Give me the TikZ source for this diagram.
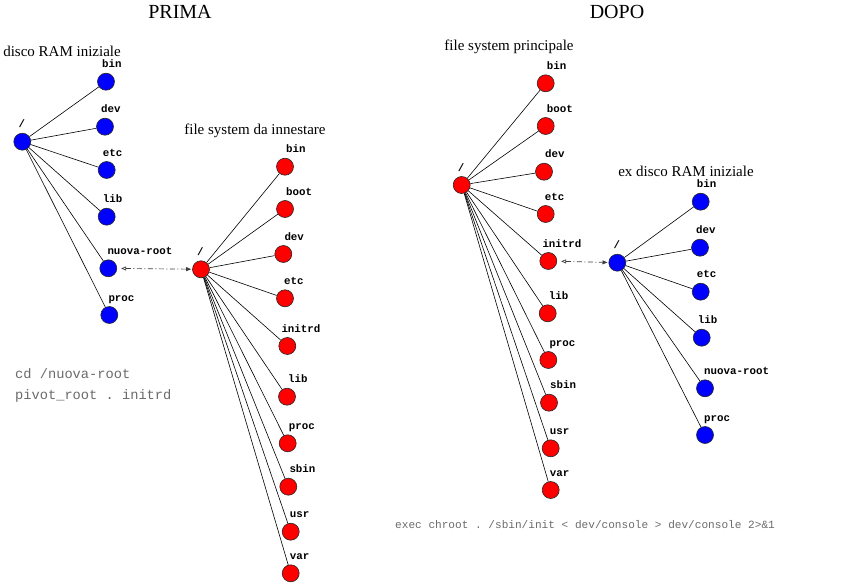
\documentclass[tikz,border=0pt]{standalone}
\usepackage{fontspec}
\setmainfont{Liberation Serif}
\setmonofont{Liberation Mono}
\usetikzlibrary{positioning, arrows.meta}
\definecolor{ramblue}{HTML}{0000FF}
\definecolor{fsred}{HTML}{FF0000}
\definecolor{cmdgray}{HTML}{6A6A6A}

\begin{document}
\begin{tikzpicture}[
    x=1pt, y=-1pt,
    >=Stealth,
    % Styles
    dirnode/.style={
        circle,
        draw=black!85,
        line width=0.6pt,
        minimum size=17pt,
        inner sep=0pt
    },
    ramdir/.style={dirnode, fill=ramblue},
    fsdir/.style={dirnode, fill=fsred},
    dirlabel/.style={
        font=\ttfamily\bfseries\fontsize{10.8}{12}\selectfont,
        anchor=base west,
        inner sep=0pt,
        xshift=-4pt,
        yshift=5pt
    },
    heading/.style={
        font=\fontsize{20}{24}\selectfont,
        anchor=base,
        inner sep=0pt
    },
    treetitle/.style={
        font=\fontsize{15}{18}\selectfont,
        anchor=base,
        inner sep=0pt
    },
    cmdtext/.style={
        font=\ttfamily\fontsize{13.7}{16}\selectfont,
        text=cmdgray,
        anchor=base west,
        inner sep=0pt
    },
    branch/.style={
        draw=black,
        line width=0.6pt
    },
    mountlink/.style={
        {Triangle[open, length=5pt, width=4pt]}-{Triangle[length=5pt, width=4pt]},
        draw=black!75,
        dash pattern=on 5pt off 2.5pt on 1pt off 2.5pt,
        line width=0.7pt,
        shorten <=4pt,
        shorten >=1pt
    }
]
    \useasboundingbox (0,0) rectangle (850,583);

    % ================= HEADINGS =================
    \node[heading] (prima) at (180,18.5) {PRIMA};
    \node[heading] (dopo) at (617,18.5) {DOPO};

    % ================= PRIMA: DISCO RAM INIZIALE =================
    \node[treetitle] (ramtitle) at (62,57) {disco RAM iniziale};
    \node[ramdir, label={[dirlabel]above:/}] (ramroot) at (22.3,141.7) {};
    \node[ramdir, label={[dirlabel]above:bin}] (rambin) at (106,81.7) {};
    \node[ramdir, label={[dirlabel]above:dev}] (ramdev) at (105,126.7) {};
    \node[ramdir, label={[dirlabel]above:etc}] (ametc) at (106.7,170) {};
    \node[ramdir, label={[dirlabel]above:lib}] (ramlib) at (106.7,216.7) {};
    \node[ramdir, label={[dirlabel, xshift=3pt]above:nuova-root}] (ramnuova) at (108.3,268.3) {};
    \node[ramdir, label={[dirlabel, xshift=3pt]above:proc}] (ramproc) at (109.3,315) {};

    % ================= PRIMA: FILE SYSTEM DA INNESTARE =================
    \node[treetitle] (newtitle) at (255,134) {file system da innestare};
    \node[fsdir, label={[dirlabel]above:/}] (newroot) at (201,269.3) {};
    \node[fsdir, label={[dirlabel, xshift=5pt]above:bin}] (newbin) at (285,166.7) {};
    \node[fsdir, label={[dirlabel, xshift=5pt]above:boot}] (newboot) at (285,209) {};
    \node[fsdir, label={[dirlabel, xshift=5pt]above:dev}] (newdev) at (283.3,254) {};
    \node[fsdir, label={[dirlabel, xshift=3pt]above:etc}] (newetc) at (285,298.3) {};
    \node[fsdir, label={[dirlabel, xshift=-2pt]above:initrd}] (newinitrd) at (287.3,346) {};
    \node[fsdir, label={[dirlabel, xshift=5pt]above:lib}] (newlib) at (287,396.7) {};
    \node[fsdir, label={[dirlabel, xshift=5pt]above:proc}] (newproc) at (287.7,443.3) {};
    \node[fsdir, label={[dirlabel, xshift=5pt]above:sbin}] (newsbin) at (288.3,486.7) {};
    \node[fsdir, label={[dirlabel, xshift=3pt]above:usr}] (newusr) at (290.7,531.7) {};
    \node[fsdir, label={[dirlabel, xshift=3pt]above:var}] (newvar) at (290.7,573.3) {};

    % ================= PRIMA: COMANDI =================
    \node[cmdtext] (cmdcd) at (15,378) {cd /nuova-root};
    \node[cmdtext] (cmdpivot) at (15,399.5) {pivot\_root . initrd};

    % ================= DOPO: FILE SYSTEM PRINCIPALE =================
    \node[treetitle] (maintitle) at (509,51) {file system principale};
    \node[fsdir, label={[dirlabel]above:/}] (mainroot) at (461.7,185) {};
    \node[fsdir, label={[dirlabel, xshift=5pt]above:bin}] (mainbin) at (545.7,83.3) {};
    \node[fsdir, label={[dirlabel, xshift=5pt]above:boot}] (mainboot) at (545.7,126) {};
    \node[fsdir, label={[dirlabel, xshift=5pt]above:dev}] (maindev) at (544,171.7) {};
    \node[fsdir, label={[dirlabel, xshift=3pt]above:etc}] (mainetc) at (545.7,214) {};
    \node[fsdir, label={[dirlabel, xshift=-2pt]above:initrd}] (maininitrd) at (548.3,261) {};
    \node[fsdir, label={[dirlabel, xshift=5pt]above:lib}] (mainlib) at (547.7,313.3) {};
    \node[fsdir, label={[dirlabel, xshift=5pt]above:proc}] (mainproc) at (548.3,360) {};
    \node[fsdir, label={[dirlabel, xshift=5pt]above:sbin}] (mainsbin) at (549,402.7) {};
    \node[fsdir, label={[dirlabel, xshift=3pt]above:usr}] (mainusr) at (550.7,448.3) {};
    \node[fsdir, label={[dirlabel, xshift=3pt]above:var}] (mainvar) at (550.7,490) {};

    % ================= DOPO: EX DISCO RAM INIZIALE =================
    \node[treetitle] (extitle) at (686,176.7) {ex disco RAM iniziale};
    \node[ramdir, label={[dirlabel]above:/}] (exroot) at (617.3,262.7) {};
    \node[ramdir, label={[dirlabel]above:bin}] (exbin) at (700.7,201.7) {};
    \node[ramdir, label={[dirlabel]above:dev}] (exdev) at (700,247.7) {};
    \node[ramdir, label={[dirlabel]above:etc}] (exetc) at (700.7,291.7) {};
    \node[ramdir, label={[dirlabel]above:lib}] (exlib) at (701.7,337.7) {};
    \node[ramdir, label={[dirlabel, xshift=3pt]above:nuova-root}] (exnuova) at (705,388.3) {};
    \node[ramdir, label={[dirlabel, xshift=3pt]above:proc}] (exproc) at (705,435) {};

    % ================= DOPO: COMANDO =================
    \node[cmdtext, font=\ttfamily\fontsize{11.1}{14}\selectfont] (cmdexec) at (395,528.5)
        {exec chroot . /sbin/init < dev/console > dev/console 2>\&1};

    % ================= CONNECTIONS / BRANCHES =================
    % disco RAM iniziale
    \draw[branch] (ramroot) -- (rambin);
    \draw[branch] (ramroot) -- (ramdev);
    \draw[branch] (ramroot) -- (ametc);
    \draw[branch] (ramroot) -- (ramlib);
    \draw[branch] (ramroot) -- (ramnuova);
    \draw[branch] (ramroot) -- (ramproc);

    % file system da innestare
    \draw[branch] (newroot) -- (newbin);
    \draw[branch] (newroot) -- (newboot);
    \draw[branch] (newroot) -- (newdev);
    \draw[branch] (newroot) -- (newetc);
    \draw[branch] (newroot) -- (newinitrd);
    \draw[branch] (newroot) -- (newlib);
    \draw[branch] (newroot) -- (newproc);
    \draw[branch] (newroot) -- (newsbin);
    \draw[branch] (newroot) -- (newusr);
    \draw[branch] (newroot) -- (newvar);

    % file system principale
    \draw[branch] (mainroot) -- (mainbin);
    \draw[branch] (mainroot) -- (mainboot);
    \draw[branch] (mainroot) -- (maindev);
    \draw[branch] (mainroot) -- (mainetc);
    \draw[branch] (mainroot) -- (maininitrd);
    \draw[branch] (mainroot) -- (mainlib);
    \draw[branch] (mainroot) -- (mainproc);
    \draw[branch] (mainroot) -- (mainsbin);
    \draw[branch] (mainroot) -- (mainusr);
    \draw[branch] (mainroot) -- (mainvar);

    % ex disco RAM iniziale
    \draw[branch] (exroot) -- (exbin);
    \draw[branch] (exroot) -- (exdev);
    \draw[branch] (exroot) -- (exetc);
    \draw[branch] (exroot) -- (exlib);
    \draw[branch] (exroot) -- (exnuova);
    \draw[branch] (exroot) -- (exproc);

    % Mount points (dash-dot)
    \draw[mountlink] (ramnuova) -- (newroot);
    \draw[mountlink] (maininitrd) -- (exroot);

\end{tikzpicture}
\end{document}
